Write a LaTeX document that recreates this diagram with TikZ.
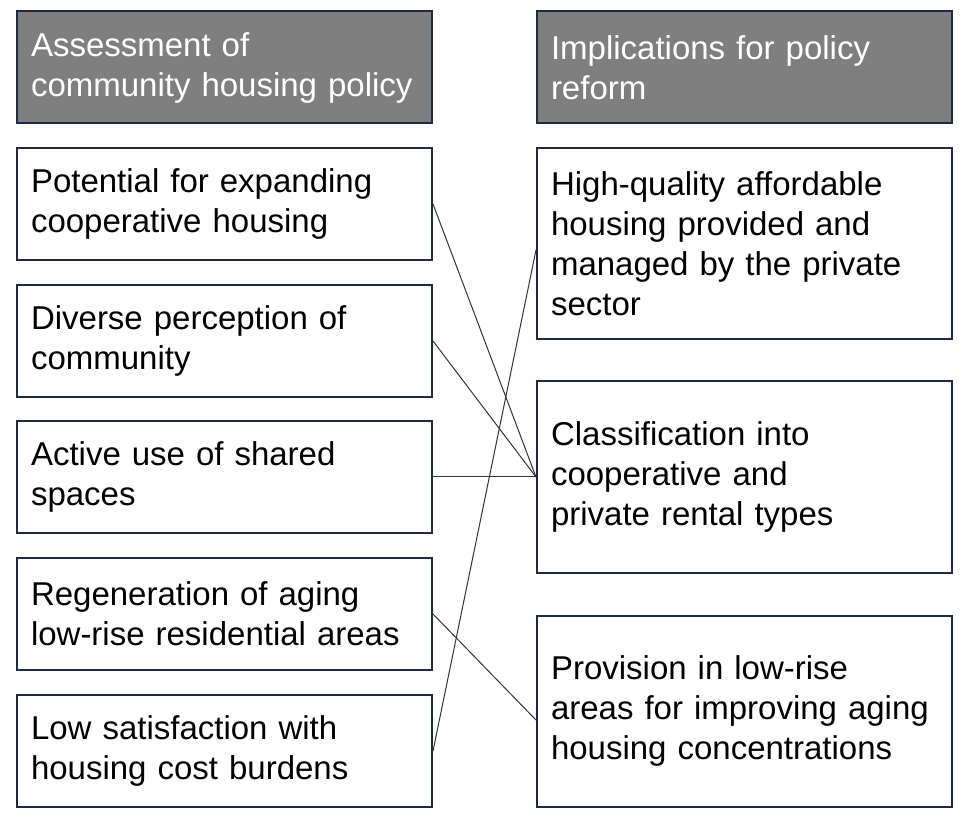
\documentclass[tikz,border=0pt]{standalone}
\usepackage{fontspec}
\setmainfont{Liberation Sans}
\definecolor{boxline}{HTML}{1F2A46}
\definecolor{headfill}{HTML}{7F7F7F}
\begin{document}
\begin{tikzpicture}[x=0.5pt, y=-0.5pt]
\tikzstyle{box} = [rectangle, draw=boxline, line width=1pt, fill=white,
  text width=193.5pt, inner xsep=7pt, inner ysep=0pt, align=left,
  font=\fontsize{16.5}{20}\selectfont, minimum height=56pt]
\tikzstyle{head} = [box, fill=headfill, text=white]
\tikzstyle{tall} = [minimum height=95.5pt]
\tikzstyle{e} = [draw=black!80, line width=0.5pt]

\useasboundingbox (0,0) rectangle (967,822);

\node[head] (HL) at (224.5, 67.5) {Assessment of\\community housing policy};
\node[head] (HR) at (744.5, 67.5) {Implications for policy\\reform};

\node[box] (L1) at (224.5, 204) {Potential for expanding\\cooperative housing};
\node[box] (L2) at (224.5, 341) {Diverse perception of\\community};
\node[box] (L3) at (224.5, 477) {Active use of shared\\spaces};
\node[box] (L4) at (224.5, 614) {Regeneration of aging\\low-rise residential areas};
\node[box] (L5) at (224.5, 751) {Low satisfaction with\\housing cost burdens};

\node[box, tall] (R1) at (744.5, 244) {High-quality affordable\\housing provided and\\managed by the private\\sector};
\node[box, tall] (R2) at (744.5, 477) {Classification into\\cooperative and\\private rental types};
\node[box, tall] (R3) at (744.5, 711) {Provision in low-rise\\areas for improving aging\\housing concentrations};

\draw[e] (L1.east) to (R2.west);
\draw[e] (L2.east) to (R2.west);
\draw[e] (L3.east) to (R2.west);
\draw[e] (L4.east) to ([yshift=-4.5pt]R3.west);
\draw[e] (L5.east) to ([yshift=-3pt]R1.west);
\end{tikzpicture}
\end{document}
